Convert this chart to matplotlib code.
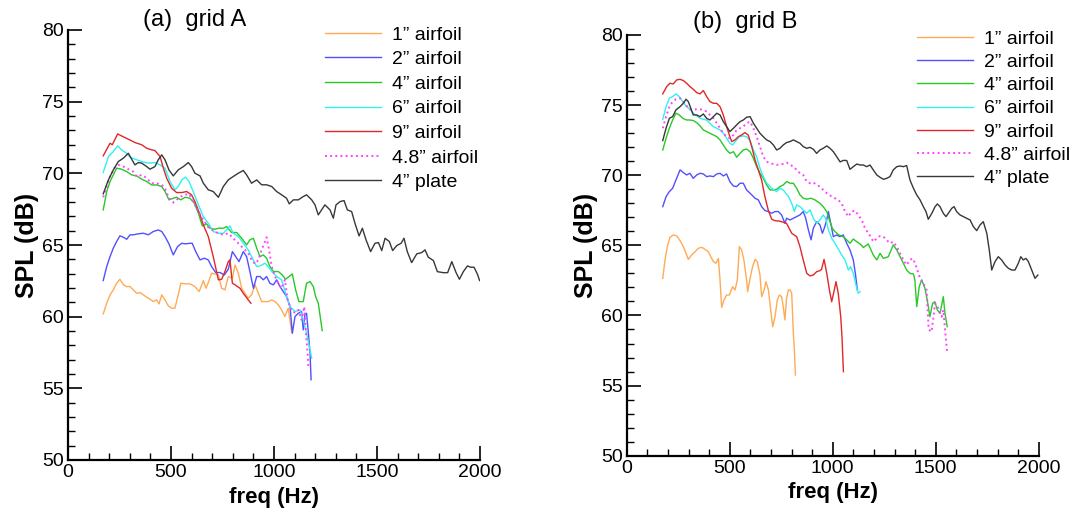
import matplotlib
matplotlib.use("Agg")
import matplotlib.pyplot as plt
from matplotlib.ticker import MultipleLocator

plt.rcParams['font.family'] = ['Liberation Sans', 'DejaVu Sans']

labels = ['1\u201d airfoil', '2\u201d airfoil', '4\u201d airfoil', '6\u201d airfoil',
          '9\u201d airfoil', '4.8\u201d airfoil', '4\u201d plate']
colors = ['#FFAA55', '#5050FF', '#28C828', '#30F0F0', '#E02828', '#FF44FF', '#383838']
styles = ['-', '-', '-', '-', '-', ':', '-']

# ---------------- grid A (freq Hz, SPL dB) ----------------
A_1in = [(171,60.19),(188,60.94),(204,61.52),(220,61.87),(236,62.33),(252,62.61),(269,62.22),(285,62.10),
         (301,62.10),(317,61.87),(333,61.63),(349,61.68),(366,61.52),(382,61.36),(398,61.22),(414,61.05),
         (430,61.17),(442,60.89),(455,61.52),(471,61.17),(487,60.75),(503,60.59),(519,60.59),(535,61.52),
         (548,62.33),(568,62.29),(592,62.29),(616,62.10),(637,61.75),(657,62.52),(670,61.98),(686,62.57),
         (697,63.03),(713,62.98),(730,62.91),(746,61.98),(762,61.87),(778,62.80),(798,62.68),(811,63.61),
         (827,63.03),(843,61.98),(859,61.63),(875,61.29),(891,61.52),(908,62.22),(924,61.63),(940,61.05),
         (956,61.05),(972,61.05),(989,61.17),(1005,61.05),(1021,60.82),(1037,60.47),(1053,60.01),
         (1069,60.59),(1086,58.9)]
A_2in = [(171,62.52),(188,63.50),(204,64.19),(220,64.78),(236,65.24),(252,65.64),(269,65.54),(285,65.40),
         (301,65.71),(317,65.71),(341,65.78),(366,65.82),(390,65.71),(414,65.94),(438,66.05),(455,65.94),
         (471,65.59),(490,65.08),(511,64.31),(532,64.89),(552,65.12),(571,65.08),(592,65.12),(603,65.12),
         (620,64.54),(641,63.96),(662,64.08),(681,63.96),(697,63.50),(717,63.08),(738,63.08),(759,62.91),
         (778,63.31),(798,64.54),(814,64.19),(830,63.84),(851,64.54),(867,64.19),(883,63.15),(900,61.98),
         (916,62.80),(932,62.80),(948,62.57),(964,62.80),(980,62.33),(997,62.22),(1013,62.57),(1029,62.10),
         (1045,61.75),(1061,61.40),(1078,60.70),(1089,58.84),(1102,60.01),(1118,60.24),(1134,60.36),
         (1142,59.08),(1150,60.12),(1158,60.24),(1167,58.84),(1175,57.45),(1180,55.6)]
A_4in = [(171,67.45),(188,68.73),(204,69.43),(220,69.89),(236,70.36),(260,70.29),(285,70.12),(309,69.89),
         (333,69.82),(358,69.59),(382,69.43),(406,69.19),(430,69.19),(455,69.08),(471,68.73),(490,68.15),
         (511,68.26),(527,68.33),(548,68.15),(568,68.33),(592,68.26),(613,67.92),(633,67.22),(652,66.33),
         (673,66.47),(689,66.17),(713,66.10),(733,66.17),(754,66.17),(770,66.29),(794,65.87),(819,65.87),
         (843,65.47),(867,65.01),(883,65.36),(900,65.47),(916,64.78),(932,64.19),(948,64.31),(964,64.08),
         (980,63.50),(997,63.15),(1021,63.15),(1040,62.91),(1056,62.61),(1073,62.80),(1089,62.98),
         (1105,61.87),(1121,61.05),(1142,61.05),(1158,62.33),(1175,62.45),(1191,62.10),(1202,61.40),
         (1215,60.94),(1234,59.03)]
A_6in = [(171,70.06),(196,71.17),(220,71.52),(241,71.92),(260,71.64),(285,71.40),(301,71.13),(325,70.99),
         (358,70.82),(390,70.71),(422,70.75),(447,70.59),(471,70.36),(495,69.43),(519,68.85),(535,69.08),
         (555,69.59),(571,69.73),(587,69.43),(608,68.73),(633,67.80),(657,66.98),(681,66.52),(705,65.94),
         (730,65.82),(754,65.82),(770,66.05),(786,66.33),(802,65.82),(827,65.59),(851,65.12),(875,64.66),
         (891,64.19),(916,63.50),(932,63.54),(956,63.73),(972,63.50),(989,63.15),(1013,62.80),(1037,62.57),
         (1061,61.40),(1078,60.70),(1102,60.36),(1126,60.47),(1142,59.77),(1158,58.84),(1175,57.68),
         (1183,57.10)]
A_9in = [(171,71.22),(204,72.10),(215,71.99),(241,72.75),(260,72.61),(293,72.38),(325,72.15),(358,71.99),
         (382,71.75),(406,71.64),(422,71.59),(447,71.17),(463,70.36),(479,69.66),(503,68.96),(527,68.66),
         (552,68.66),(576,68.73),(600,68.50),(616,68.03),(641,67.10),(657,66.40),(681,65.59),(705,64.19),
         (730,62.57),(746,62.61),(762,63.15),(778,63.84),(786,63.96),(798,62.33),(811,62.22),(835,61.98),
         (851,61.63),(875,61.17),(888,60.94)]
A_48in = [(171,68.33),(188,69.08),(204,69.78),(225,70.36),(244,70.59),(269,70.47),(293,70.29),(317,70.12),
          (333,69.78),(358,69.89),(382,69.66),(406,69.31),(430,69.31),(455,69.20),(471,68.96),(490,68.26),
          (511,67.96),(527,68.15),(548,68.38),(568,68.50),(587,68.57),(608,68.03),(633,67.33),(657,66.75),
          (681,66.24),(705,66.01),(730,65.82),(754,65.71),(778,65.82),(802,65.47),(827,65.12),(851,64.78),
          (875,64.43),(891,63.96),(908,63.68),(924,63.96),(940,64.66),(956,65.24),(964,65.54),(976,64.66),
          (989,63.50),(1005,62.80),(1021,62.33),(1037,61.98),(1053,62.57),(1066,61.17),(1086,60.36),
          (1102,60.29),(1118,60.47),(1134,59.77),(1147,60.70),(1154,59.08),(1163,57.45),(1167,56.52)]
A_plate = [(171,68.57),(196,69.54),(220,70.24),(244,70.82),(269,71.06),(293,71.40),(309,70.99),(325,70.59),
           (341,70.75),(358,70.71),(382,70.47),(398,70.29),(422,70.47),(438,70.94),(455,71.29),(471,70.94),
           (490,70.24),(511,69.82),(535,70.24),(560,70.47),(584,70.75),(600,70.47),(616,70.01),(641,69.82),
           (657,69.31),(681,68.85),(705,68.73),(730,68.33),(754,69.08),(778,69.54),(802,69.78),(827,70.01),
           (851,70.20),(867,69.89),(891,69.31),(916,69.54),(940,69.20),(964,69.20),(989,69.08),(1013,68.73),
           (1037,68.50),(1061,68.26),(1074,67.87),(1094,68.15),(1118,68.15),(1142,68.38),(1158,68.50),
           (1183,68.15),(1199,67.80),(1215,67.10),(1231,67.45),(1247,67.80),(1272,67.45),(1288,66.87),
           (1301,67.80),(1321,68.03),(1340,68.10),(1356,67.45),(1377,67.33),(1393,66.52),(1413,65.63),
           (1429,66.17),(1447,65.35),(1469,64.54),(1490,65.12),(1507,65.17),(1523,64.61),(1539,65.47),
           (1560,65.24),(1576,64.61),(1596,64.96),(1617,65.12),(1631,65.47),(1647,64.54),(1668,63.77),
           (1693,64.38),(1717,64.47),(1733,64.66),(1749,64.15),(1774,63.91),(1793,63.14),(1822,63.07),
           (1843,63.07),(1863,63.84),(1884,63.07),(1900,62.61),(1919,63.14),(1939,63.54),(1955,63.45),
           (1971,63.45),(1987,62.98),(1998,62.52)]

# ---------------- grid B ----------------
B_1in = [(175,62.65),(186,63.96),(197,64.91),(210,65.57),(226,65.74),(243,65.67),(259,65.33),(275,64.91),
         (288,64.43),(299,64.00),(315,64.31),(332,64.55),(348,64.79),(364,64.86),(380,64.72),(396,64.55),
         (408,64.19),(421,63.84),(433,63.72),(445,64.07),(453,62.53),(461,60.58),(472,61.10),(485,61.46),
         (498,61.46),(514,62.05),(526,61.82),(537,62.53),(547,64.91),(558,64.67),(569,63.96),(582,62.53),
         (587,61.70),(599,62.65),(611,63.48),(623,64.00),(634,63.84),(647,62.89),(655,61.34),(667,61.82),
         (676,62.41),(688,61.82),(699,60.39),(709,59.20),(720,59.91),(731,61.10),(741,61.46),(752,61.34),
         (760,60.63),(768,59.68),(776,61.22),(785,61.82),(793,61.82),(801,61.58),(809,58.72),(814,57.54),
         (819,55.75)]
B_2in = [(175,67.76),(191,68.47),(207,68.83),(223,69.07),(239,69.66),(259,70.38),(275,70.19),(291,70.02),
         (307,70.14),(323,69.78),(340,70.02),(356,70.14),(372,70.09),(388,69.90),(404,69.95),(421,69.90),
         (437,70.09),(453,70.14),(469,69.95),(485,70.09),(501,69.54),(518,69.23),(534,69.19),(550,69.43),
         (566,69.43),(582,68.95),(607,68.60),(623,68.36),(639,68.24),(655,67.76),(671,67.48),(687,67.41),
         (704,67.29),(720,67.41),(736,67.41),(752,67.17),(768,66.57),(776,66.93),(793,66.81),(809,66.93),
         (825,67.05),(841,67.17),(857,67.41),(869,66.93),(882,66.10),(895,65.39),(906,66.22),(922,66.69),
         (938,66.46),(950,65.86),(959,66.22),(971,66.81),(979,67.41),(992,66.46),(1003,65.62),(1019,65.74),
         (1035,65.62),(1051,65.74),(1068,65.15),(1084,64.67),(1100,63.96),(1110,63.00),(1120,61.80)]
B_4in = [(175,71.80),(191,72.63),(207,73.35),(223,73.94),(239,74.42),(255,74.30),(272,74.06),(291,73.94),
         (307,73.94),(323,73.90),(340,73.75),(356,73.52),(372,73.23),(388,73.11),(404,72.99),(421,72.87),
         (437,72.75),(453,72.52),(469,72.16),(485,71.80),(501,71.56),(518,71.68),(534,71.28),(550,71.56),
         (566,71.80),(582,71.87),(599,71.68),(615,71.21),(631,70.61),(647,70.14),(663,69.78),(679,69.31),
         (696,68.95),(712,68.95),(728,69.00),(744,69.19),(760,69.31),(777,69.55),(793,69.43),(809,69.43),
         (825,69.07),(841,68.60),(857,68.36),(874,68.29),(895,68.36),(914,68.24),(938,68.00),(954,67.76),
         (971,67.41),(984,66.81),(998,66.22),(1011,65.98),(1030,65.74),(1051,65.62),(1068,65.39),
         (1084,65.15),(1100,65.45),(1116,65.27),(1133,65.10),(1149,64.85),(1173,65.10),(1197,64.31),
         (1214,63.96),(1230,64.43),(1246,64.07),(1270,64.19),(1294,65.03),(1311,64.67),(1327,64.19),
         (1343,63.72),(1359,63.24),(1375,63.00),(1392,62.96),(1399,62.53),(1408,60.63),(1420,62.05),
         (1432,62.53),(1448,61.93),(1459,61.10),(1472,59.91),(1485,60.87),(1496,60.98),(1508,60.39),
         (1521,60.15),(1537,61.34),(1545,60.15),(1556,59.20)]
B_6in = [(175,73.99),(191,74.89),(207,75.49),(223,75.61),(239,75.80),(255,75.61),(272,75.25),(291,74.89),
         (307,74.70),(323,74.42),(340,74.23),(356,74.06),(372,73.99),(388,73.94),(404,73.70),(421,73.47),
         (437,73.35),(453,73.23),(469,72.99),(485,72.64),(501,72.28),(514,72.16),(531,72.47),(547,72.75),
         (566,72.80),(582,72.75),(599,72.47),(615,71.80),(631,71.30),(647,70.50),(663,69.90),(679,69.45),
         (704,69.07),(728,68.83),(744,69.07),(760,68.95),(785,68.48),(801,68.00),(814,67.41),(825,67.88),
         (841,67.76),(857,67.53),(874,67.29),(890,67.53),(906,66.93),(922,66.57),(938,66.81),(954,67.17),
         (966,66.93),(979,66.10),(995,65.51),(1011,65.15),(1030,64.67),(1043,64.32),(1060,63.96),
         (1076,63.24),(1087,63.48),(1100,63.01),(1113,62.17),(1124,61.58),(1133,61.70)]
B_9in = [(175,75.80),(194,76.32),(210,76.56),(226,76.51),(243,76.80),(259,76.84),(275,76.75),(291,76.56),
         (307,76.32),(323,76.13),(340,75.89),(356,75.80),(372,76.04),(388,75.61),(404,75.25),(421,75.13),
         (437,75.13),(453,74.89),(469,74.30),(485,73.47),(501,72.75),(510,72.40),(526,72.52),(542,72.75),
         (558,72.87),(574,73.04),(590,72.87),(607,72.04),(623,71.09),(639,70.38),(655,69.66),(671,68.47),
         (687,67.52),(704,66.86),(720,66.76),(744,66.72),(776,66.57),(801,65.86),(825,65.62),(841,64.91),
         (857,63.96),(874,63.01),(890,62.82),(906,62.89),(922,63.12),(938,63.20),(946,63.29),(958,64.00),
         (971,63.01),(984,61.82),(995,60.98),(1006,61.70),(1016,62.41),(1027,61.58),(1039,59.91),
         (1045,58.49),(1052,55.99)]
B_48in = [(175,73.35),(191,74.18),(207,74.89),(223,75.25),(239,75.42),(259,75.49),(275,75.25),(291,74.94),
          (307,74.70),(323,74.70),(340,74.70),(356,74.70),(372,74.66),(388,74.54),(404,74.30),(421,74.06),
          (437,73.71),(453,73.35),(469,72.99),(485,72.75),(501,72.63),(518,72.87),(534,73.23),(550,73.35),
          (566,73.47),(582,73.71),(599,73.82),(615,73.35),(631,72.75),(647,72.04),(663,71.33),(679,70.97),
          (696,70.86),(728,70.74),(760,70.81),(777,70.90),(793,70.74),(809,70.62),(825,70.38),(841,70.14),
          (857,70.02),(874,69.55),(890,69.43),(906,69.48),(922,69.31),(938,69.19),(954,68.95),(971,68.72),
          (995,68.48),(1011,68.36),(1027,68.24),(1043,68.00),(1060,67.41),(1076,67.05),(1092,67.41),
          (1108,67.48),(1124,67.17),(1141,66.81),(1157,66.22),(1173,65.86),(1189,65.51),(1197,65.26),
          (1214,65.50),(1230,65.67),(1246,65.62),(1262,65.38),(1278,65.14),(1294,65.26),(1311,64.91),
          (1327,64.43),(1343,63.96),(1359,63.60),(1375,63.96),(1388,64.07),(1400,63.72),(1411,63.24),
          (1424,62.65),(1440,62.30),(1456,61.80),(1466,59.00),(1480,58.84),(1497,60.86),(1513,60.51),
          (1529,59.91),(1537,60.39),(1550,58.25),(1556,57.30)]
B_plate = [(175,72.47),(191,73.35),(207,74.06),(223,74.18),(239,74.66),(259,74.89),(275,75.13),(288,75.42),
           (299,75.25),(311,74.78),(323,74.30),(340,74.30),(356,74.18),(372,74.37),(388,74.06),(404,73.94),
           (421,74.18),(437,74.42),(453,74.30),(469,73.82),(485,73.47),(501,73.11),(518,73.35),(534,73.59),
           (550,73.82),(566,73.94),(582,74.13),(599,74.18),(615,73.71),(631,73.35),(647,72.99),(663,72.75),
           (679,72.52),(696,72.40),(712,72.16),(728,71.80),(744,71.92),(760,72.16),(776,72.33),(793,72.40),
           (809,72.52),(825,72.40),(841,72.28),(857,72.04),(874,71.92),(890,71.99),(906,71.85),(922,71.56),
           (938,71.80),(954,71.92),(971,72.09),(987,71.92),(1003,71.68),(1019,71.33),(1036,70.95),
           (1052,71.06),(1068,71.05),(1084,70.42),(1100,70.61),(1117,70.80),(1133,70.73),(1149,70.73),
           (1165,70.61),(1181,70.73),(1197,70.38),(1214,70.02),(1230,69.85),(1246,69.71),(1262,69.78),
           (1278,69.90),(1294,70.38),(1311,70.61),(1327,70.66),(1343,70.61),(1359,70.69),(1375,69.66),
           (1392,69.07),(1408,68.59),(1424,68.24),(1440,67.76),(1453,67.40),(1464,66.86),(1481,67.28),
           (1497,67.76),(1508,67.95),(1521,67.76),(1537,67.28),(1550,67.05),(1561,67.28),(1578,67.64),
           (1589,67.76),(1602,67.40),(1618,67.17),(1634,67.05),(1650,66.93),(1667,66.81),(1683,66.33),
           (1699,66.05),(1715,66.45),(1731,66.69),(1748,65.86),(1760,64.67),(1772,63.24),(1788,63.84),
           (1804,64.19),(1820,63.96),(1837,63.60),(1853,63.36),(1869,63.24),(1885,63.24),(1901,63.72),
           (1913,64.19),(1925,63.96),(1938,64.07),(1950,63.84),(1966,63.24),(1982,62.65),(1996,62.88)]

panels = [
    dict(title='(a)  grid A', series=[A_1in, A_2in, A_4in, A_6in, A_9in, A_48in, A_plate]),
    dict(title='(b)  grid B', series=[B_1in, B_2in, B_4in, B_6in, B_9in, B_48in, B_plate]),
]

W, H = 1078, 519
fig = plt.figure(figsize=(W / 100, H / 100), dpi=100)
ax_boxes = [
    (68 / W, 1 - 460 / H, 412 / W, 430 / H),
    (626.7 / W, 1 - 455.7 / H, 412 / W, 420.7 / H),
]
title_pos = [(143 / W, 1 - 20 / H), (693 / W, 1 - 22 / H)]
legend_pos = [(325 / W, 1 - 26 / H), (917 / W, 1 - 30 / H)]
legend_spacing = [0.36, 0.29]

for i, p in enumerate(panels):
    ax = fig.add_axes(ax_boxes[i])
    for s, lab, c, ls in zip(p['series'], labels, colors, styles):
        fx = [q[0] for q in s]
        fy = [q[1] for q in s]
        ax.plot(fx, fy, color=c, ls=ls, lw=1.0 if ls == '-' else 1.4, label=lab)
    ax.set_xlim(0, 2000)
    ax.set_ylim(50, 80)
    ax.xaxis.set_major_locator(MultipleLocator(500))
    ax.xaxis.set_minor_locator(MultipleLocator(100))
    ax.yaxis.set_major_locator(MultipleLocator(5))
    ax.yaxis.set_minor_locator(MultipleLocator(1))
    ax.spines['top'].set_visible(False)
    ax.spines['right'].set_visible(False)
    for sp in ('left', 'bottom'):
        ax.spines[sp].set_linewidth(1.6)
    ax.tick_params(which='major', direction='in', length=10, width=1.2, labelsize=14, pad=3)
    ax.tick_params(which='minor', direction='in', length=5, width=1.0)
    ax.set_xlabel('freq (Hz)', fontsize=16, fontweight='bold', labelpad=4)
    ax.set_ylabel('SPL (dB)', fontsize=18, fontweight='bold', labelpad=2)
    fig.text(title_pos[i][0], title_pos[i][1], p['title'], fontsize=17, ha='left', va='center')
    ax.legend(loc='upper left', bbox_to_anchor=legend_pos[i], bbox_transform=fig.transFigure,
              frameon=False, fontsize=14, handlelength=2.9, handletextpad=0.55,
              labelspacing=legend_spacing[i], borderpad=0, borderaxespad=0)

fig.savefig('out.png', dpi=100)
